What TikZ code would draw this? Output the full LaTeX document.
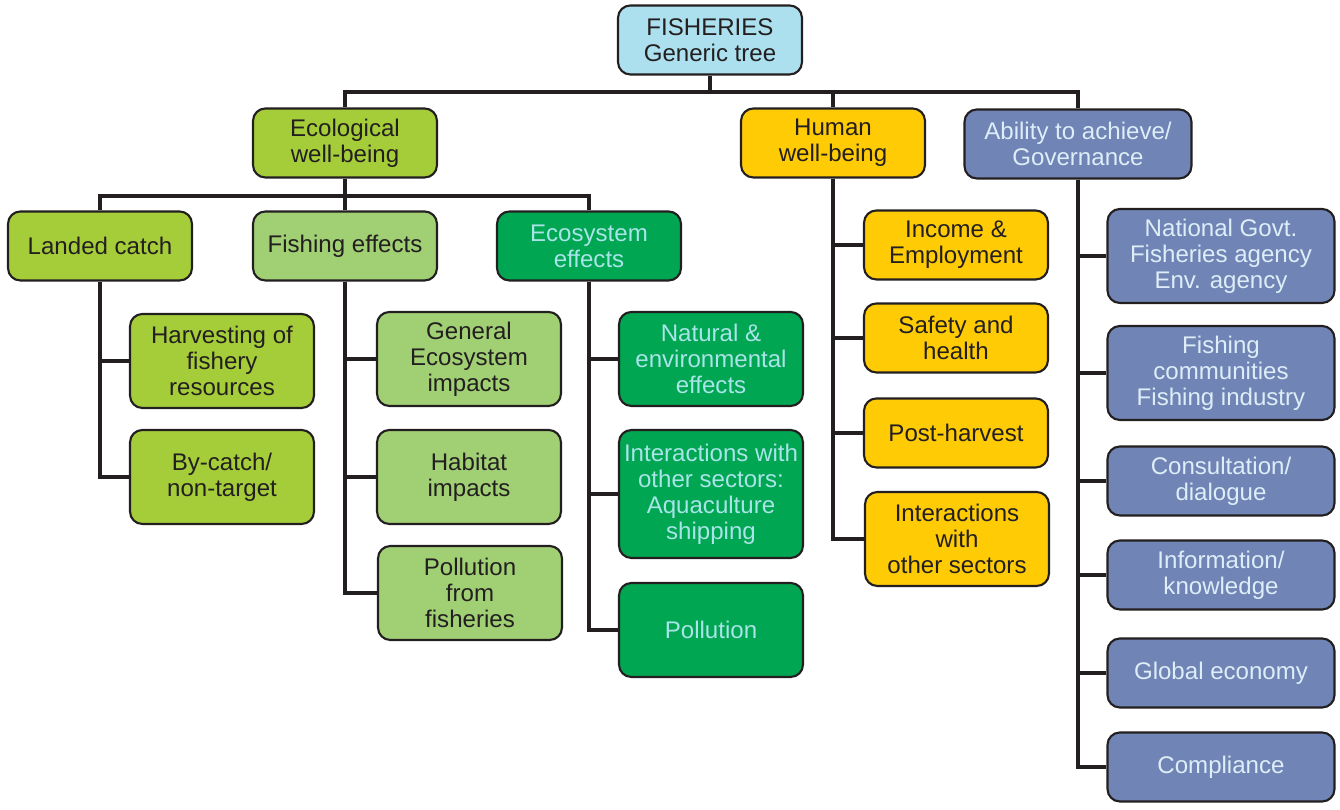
\documentclass[tikz,border=0pt]{standalone}
\usepackage{fontspec}
\setmainfont{Liberation Sans}
\definecolor{rootblue}{HTML}{ADE0EE}
\definecolor{limegreen}{HTML}{A5CD39}
\definecolor{softgreen}{HTML}{A1D074}
\definecolor{ecogreen}{HTML}{00A651}
\definecolor{ecotext}{HTML}{A8E4E8}
\definecolor{humanyellow}{HTML}{FFCB05}
\definecolor{govblue}{HTML}{7084B5}
\definecolor{govtext}{HTML}{DDEEF8}
\definecolor{ink}{HTML}{231F20}
\tikzset{
  box/.style={draw=ink, line width=1.2pt, rounded corners=7pt, align=center,
    inner sep=0pt, text=ink, minimum width=3.68cm, minimum height=1.38cm,
    font=\fontsize{13.7}{14.8}\selectfont},
  tall/.style={minimum height=1.88cm},
  wide/.style={minimum width=4.54cm},
  link/.style={draw=ink, line width=2.2pt},
}
\begin{document}
\begin{tikzpicture}[x=0.02cm,y=-0.02cm]
  \useasboundingbox (0,0) rectangle (1340,810);
  % Raiz
  \node[box, fill=rootblue] (root) at (710,40) {FISHERIES\\Generic tree};
  % Primer nivel
  \node[box, fill=limegreen] (eco) at (345,143) {Ecological\\well-being};
  \node[box, fill=humanyellow] (human) at (833,143) {Human\\well-being};
  \node[box, wide, fill=govblue, text=govtext] (gov) at (1078,144) {Ability to achieve/\\Governance};
  % Segundo nivel (ecologico)
  \node[box, fill=limegreen] (landed) at (100,246) {Landed catch};
  \node[box, fill=softgreen] (fishing) at (345,246) {Fishing effects};
  \node[box, fill=ecogreen, text=ecotext] (ecosys) at (589,246) {Ecosystem\\effects};
  % Landed catch
  \node[box, tall, fill=limegreen] (harvest) at (222,361) {Harvesting of\\fishery\\resources};
  \node[box, tall, fill=limegreen] (bycatch) at (222,477) {By-catch/\\non-target};
  % Fishing effects
  \node[box, tall, fill=softgreen] (general) at (469,359) {General\\Ecosystem\\impacts};
  \node[box, tall, fill=softgreen] (habitat) at (469,477) {Habitat\\impacts};
  \node[box, tall, fill=softgreen] (polfish) at (470,593) {Pollution\\from\\fisheries};
  % Ecosystem effects
  \node[box, tall, fill=ecogreen, text=ecotext] (natural) at (711,359) {Natural \&\\environmental\\effects};
  \node[box, minimum height=2.56cm, fill=ecogreen, text=ecotext] (sectors) at (711,494) {Interactions with\\other sectors:\\Aquaculture\\shipping};
  \node[box, tall, fill=ecogreen, text=ecotext] (pollution) at (711,630) {Pollution};
  % Human well-being
  \node[box, fill=humanyellow] (income) at (956,245) {Income \&\\Employment};
  \node[box, fill=humanyellow] (safety) at (956,338) {Safety and\\health};
  \node[box, fill=humanyellow] (post) at (956,433) {Post-harvest};
  \node[box, tall, fill=humanyellow] (other) at (957,539) {Interactions\\with\\other sectors};
  % Governance
  \node[box, wide, tall, fill=govblue, text=govtext] (govt) at (1221,256) {National Govt.\\Fisheries agency\\Env. agency};
  \node[box, wide, tall, fill=govblue, text=govtext] (community) at (1221,373) {Fishing\\communities\\Fishing industry};
  \node[box, wide, fill=govblue, text=govtext] (consult) at (1221,481) {Consultation/\\dialogue};
  \node[box, wide, fill=govblue, text=govtext] (info) at (1221,575) {Information/\\knowledge};
  \node[box, wide, fill=govblue, text=govtext] (economy) at (1221,673) {Global economy};
  \node[box, wide, fill=govblue, text=govtext] (comply) at (1221,767) {Compliance};
  % Conectores
  \coordinate (top) at (710,92);
  \coordinate (ecobar) at (345,196);
  \draw[link] (root.south) -- (top);
  \draw[link] (eco.north) |- (top) -| (gov.north);
  \draw[link] (top -| human.north) -- (human.north);
  \draw[link] (eco.south) -- (ecobar);
  \draw[link] (landed.north) |- (ecobar) -| (ecosys.north);
  \draw[link] (ecobar) -- (fishing.north);
  \draw[link] (landed.south) |- (harvest.west);
  \draw[link] (landed.south) |- (bycatch.west);
  \draw[link] (fishing.south) |- (general.west);
  \draw[link] (fishing.south) |- (habitat.west);
  \draw[link] (fishing.south) |- (polfish.west);
  \draw[link] (ecosys.south) |- (natural.west);
  \draw[link] (ecosys.south) |- (sectors.west);
  \draw[link] (ecosys.south) |- (pollution.west);
  \draw[link] (human.south) |- (income.west);
  \draw[link] (human.south) |- (safety.west);
  \draw[link] (human.south) |- (post.west);
  \draw[link] (human.south) |- (other.west);
  \draw[link] (gov.south) |- (govt.west);
  \draw[link] (gov.south) |- (community.west);
  \draw[link] (gov.south) |- (consult.west);
  \draw[link] (gov.south) |- (info.west);
  \draw[link] (gov.south) |- (economy.west);
  \draw[link] (gov.south) |- (comply.west);
\end{tikzpicture}
\end{document}
